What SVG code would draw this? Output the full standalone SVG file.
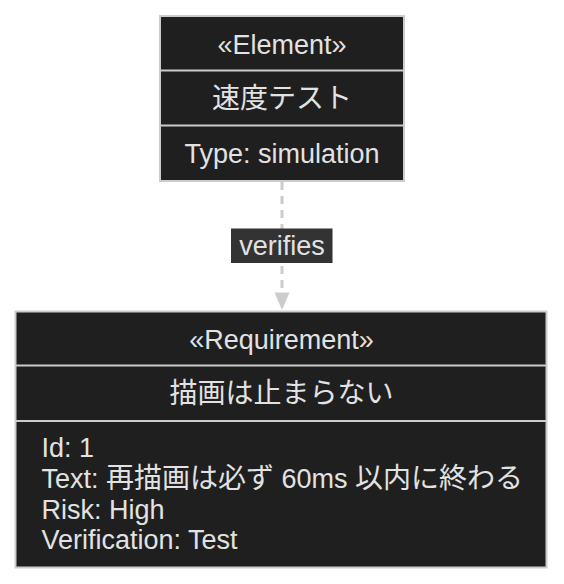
<svg xmlns="http://www.w3.org/2000/svg" width="564" height="584" viewBox="0 0 564 584">
  <defs>
    <style>
      .box { fill: #1f1f1f; stroke: #cccccc; stroke-width: 2; }
      .div { stroke: #cccccc; stroke-width: 2; }
      .t { font-family: "Liberation Sans", "Noto Sans CJK JP", sans-serif; font-size: 27px; fill: #e2e2e2; }
      .j { font-size: 28px; }
      .c { text-anchor: middle; }
      .edge { stroke: #cccccc; stroke-width: 3; stroke-dasharray: 8 6; fill: none; }
      .lblbg { fill: #333333; }
    </style>
  </defs>
  <rect width="564" height="584" fill="#ffffff"/>
  <g id="connectors">
    <path class="edge" d="M282,182 L282,293"/>
    <path d="M274.5,292.5 L289.5,292.5 L282,310 z" fill="#cccccc"/>
    <g id="edge-label">
      <rect class="lblbg" x="231" y="228.5" width="101.5" height="34.5"/>
      <text class="t c" x="282" y="254.5">verifies</text>
    </g>
  </g>
  <g id="node-element">
    <rect class="box" x="160" y="16" width="244" height="165"/>
    <line class="div" x1="160" y1="70.5" x2="404" y2="70.5"/>
    <line class="div" x1="160" y1="125.5" x2="404" y2="125.5"/>
    <text class="t c" x="282" y="53.5">«Element»</text>
    <text class="t c j" x="282" y="107.5">速度テスト</text>
    <text class="t c" x="282" y="162.5">Type: simulation</text>
  </g>
  <g id="node-requirement">
    <rect class="box" x="15.5" y="311.5" width="531" height="256"/>
    <line class="div" x1="15.5" y1="365.5" x2="546.5" y2="365.5"/>
    <line class="div" x1="15.5" y1="421" x2="546.5" y2="421"/>
    <text class="t c" x="281.5" y="348.5">«Requirement»</text>
    <text class="t c j" x="281.5" y="403">描画は止まらない</text>
    <text class="t" x="41.5" y="457">Id: 1</text>
    <text class="t" x="41.5" y="488">Text: <tspan class="j">再描画は必ず</tspan> 60ms <tspan class="j">以内に終わる</tspan></text>
    <text class="t" x="41.5" y="519">Risk: High</text>
    <text class="t" x="41.5" y="549">Verification: Test</text>
  </g>
</svg>
